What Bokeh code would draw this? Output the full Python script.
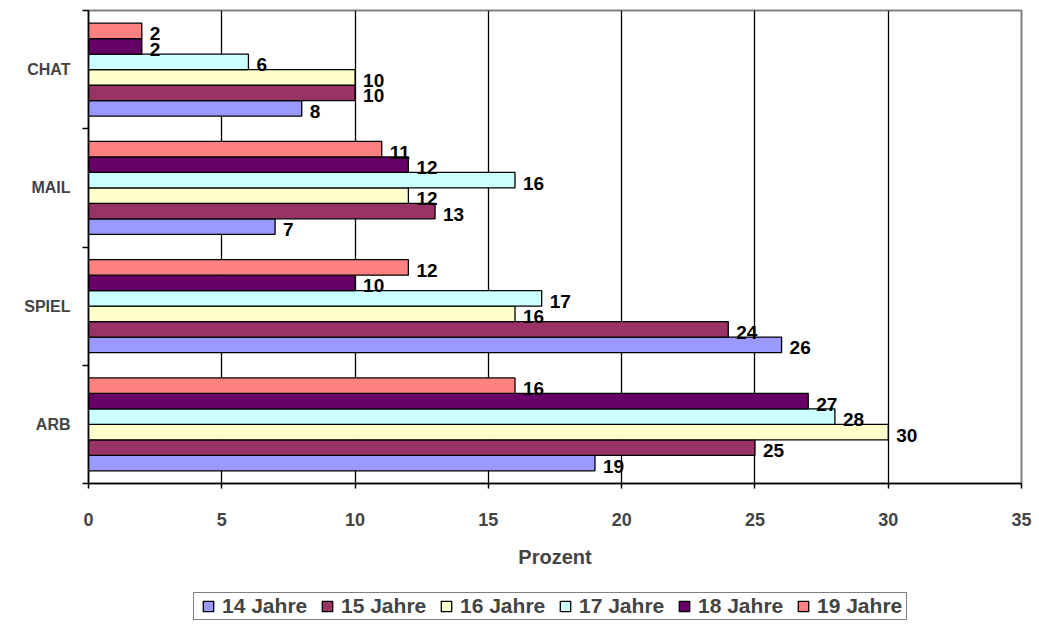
from bokeh.plotting import figure
from bokeh.models import ColumnDataSource, FixedTicker, Range1d, Legend, LegendItem
from bokeh.layouts import column
from bokeh.embed import file_html
from bokeh.resources import INLINE
from bokeh.core.properties import value

categories = ["ARB", "SPIEL", "MAIL", "CHAT"]
series = ["14 Jahre", "15 Jahre", "16 Jahre", "17 Jahre", "18 Jahre", "19 Jahre"]
v14 = [19, 26, 7, 8]
v15 = [25, 24, 13, 10]
v16 = [30, 16, 12, 10]
v17 = [28, 17, 16, 6]
v18 = [27, 10, 12, 2]
v19 = [16, 12, 11, 2]
values = [v14, v15, v16, v17, v18, v19]
colors = ["#9999FF", "#993366", "#FFFFCC", "#CCFFFF", "#660066", "#FF8080"]
x_ticks = [0, 5, 10, 15, 20, 25, 30, 35]

FONT = "Liberation Sans"

p = figure(width=1039, height=580, output_backend="svg", toolbar_location=None,
           x_range=Range1d(0, 35), y_range=Range1d(0, len(categories)),
           min_border_left=88, min_border_top=10, min_border_right=18, min_border_bottom=97,
           background_fill_color="white", border_fill_color="white")

bar_h = 0.131
n = len(series)
renderers = []
for i, (s, vals, c) in enumerate(zip(series, values, colors)):
    ys = [k + 0.5 + (i - (n - 1) / 2) * bar_h for k in range(len(categories))]
    src = ColumnDataSource(dict(y=ys, right=vals, lab=[str(v) for v in vals]))
    r = p.hbar(y="y", left=0, right="right", height=bar_h, source=src,
               fill_color=c, line_color="black", line_width=1.3)
    renderers.append(r)
    p.text(x="right", y="y", text="lab", source=src, x_offset=8, y_offset=3,
           text_baseline="middle", text_align="left",
           text_font=value(FONT), text_font_style="bold", text_font_size="19px",
           text_color="black")

# grid / outline
p.ygrid.visible = False
p.xgrid.ticker = FixedTicker(ticks=x_ticks)
p.xgrid.grid_line_color = "black"
p.xgrid.grid_line_width = 1.3
p.outline_line_color = "#808080"
p.outline_line_width = 2

# x axis
xa = p.xaxis[0]
xa.ticker = FixedTicker(ticks=x_ticks)
xa.axis_label = "Prozent"
xa.axis_line_color = "black"
xa.axis_line_width = 1.5
xa.major_tick_in = 0
xa.major_tick_out = 5
xa.major_tick_line_width = 1.5
xa.minor_tick_line_color = None
xa.major_label_standoff = 24
xa.axis_label_standoff = 17
xa.major_label_text_font = FONT
xa.major_label_text_font_style = "bold"
xa.major_label_text_font_size = "18px"
xa.axis_label_text_font = FONT
xa.axis_label_text_font_style = "bold"
xa.axis_label_text_font_size = "20px"

# y axis: labels at category centres, ticks at category boundaries
ya = p.yaxis[0]
centres = [k + 0.5 for k in range(len(categories))]
bounds = [float(k) for k in range(len(categories) + 1)]
ya.ticker = FixedTicker(ticks=centres, minor_ticks=bounds)
ya.major_label_overrides = {c: cat for c, cat in zip(centres, categories)}
ya.major_tick_in = 0
ya.major_tick_out = 0
ya.minor_tick_in = 0
ya.minor_tick_out = 6
ya.minor_tick_line_color = "black"
ya.minor_tick_line_width = 1.5
ya.axis_line_color = "black"
ya.axis_line_width = 1.5
ya.major_label_standoff = 12
ya.major_label_text_font = FONT
ya.major_label_text_font_style = "bold"
ya.major_label_text_font_size = "16px"

# legend in its own strip below the chart (swatches only; points lie off-range)
p2 = figure(width=1039, height=49, output_backend="svg", toolbar_location=None,
            x_range=Range1d(0, 1), y_range=Range1d(0, 1),
            x_axis_location=None, y_axis_location=None,
            min_border=0, outline_line_color=None,
            background_fill_color="white", border_fill_color="white")
p2.xgrid.visible = False
p2.ygrid.visible = False
dummies = [p2.scatter(x=[-10], y=[-10], marker="square", size=11, fill_color=c,
                      line_color="black", line_width=1.3) for c in colors]
legend = Legend(items=[LegendItem(label=s, renderers=[r]) for s, r in zip(series, dummies)],
                orientation="horizontal", location=(105, 9),
                glyph_width=28, glyph_height=26, label_standoff=0, spacing=2,
                label_width=89, padding=0, margin=0,
                border_line_color="black", border_line_width=1.5,
                background_fill_color="white", background_fill_alpha=1,
                label_text_font=FONT, label_text_font_style="bold",
                label_text_font_size="21px")
p2.add_layout(legend, "center")

layout = column(p, p2, spacing=0)
open("out.html", "w").write(file_html(layout, INLINE))
